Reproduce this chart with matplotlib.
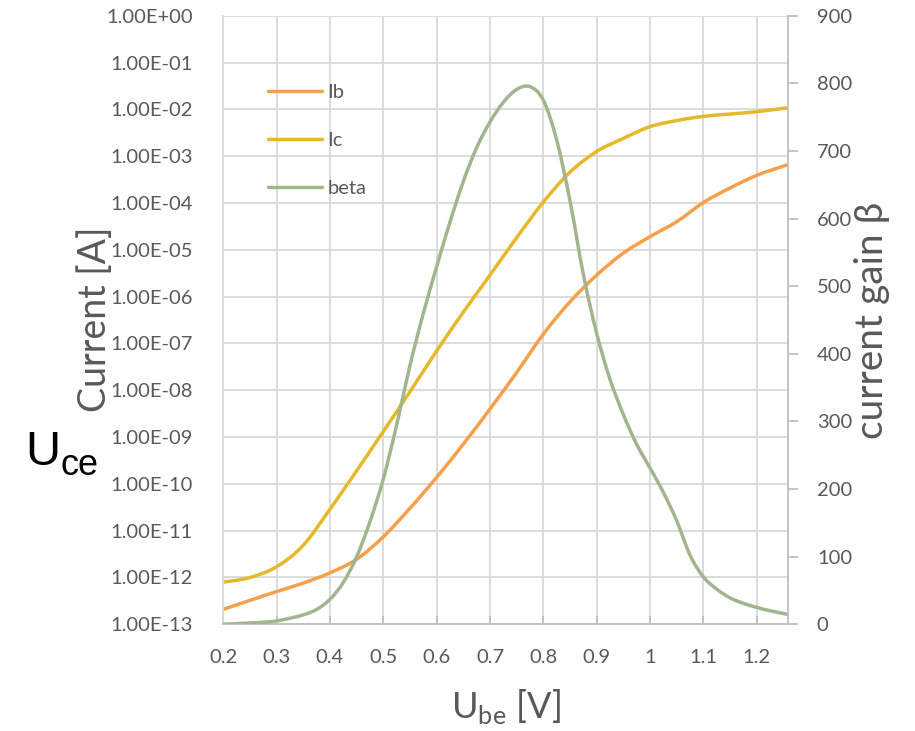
import numpy as np
import matplotlib
matplotlib.use("Agg")
import matplotlib.pyplot as plt
from matplotlib.path import Path
from matplotlib.patches import PathPatch
from matplotlib.lines import Line2D

# ---------------- data ----------------
ube_i = [0.20, 0.25, 0.30, 0.35, 0.40, 0.45, 0.50, 0.55, 0.60, 0.65, 0.70, 0.75,
         0.80, 0.85, 0.90, 0.95, 1.00, 1.05, 1.10, 1.15, 1.20, 1.256]
log_ib = [-12.68, -12.49, -12.30, -12.12, -11.90, -11.61, -11.13, -10.52, -9.86, -9.15,
          -8.40, -7.62, -6.80, -6.11, -5.54, -5.07, -4.72, -4.40, -3.99, -3.68, -3.41, -3.19]
log_ic = [-12.10, -12.00, -11.77, -11.31, -10.54, -9.72, -8.88, -8.03, -7.16, -6.33,
          -5.54, -4.74, -3.98, -3.34, -2.90, -2.62, -2.37, -2.24, -2.15, -2.10, -2.05, -1.97]

ube_b = [0.200, 0.225, 0.250, 0.275, 0.300, 0.325, 0.350, 0.375, 0.400, 0.425, 0.450,
         0.475, 0.500, 0.525, 0.550, 0.575, 0.600, 0.625, 0.650, 0.675, 0.700, 0.725,
         0.750, 0.775, 0.800, 0.825, 0.850, 0.875, 0.900, 0.925, 0.950, 0.975, 1.000,
         1.025, 1.050, 1.075, 1.100, 1.125, 1.150, 1.175, 1.200, 1.225, 1.256]
beta = [0, 1, 2, 3, 5, 9, 14, 22, 37, 62, 100,
        152, 215, 295, 383, 460, 529, 595, 655, 705, 743, 772,
        791, 795, 775, 716, 626, 517, 430, 362, 310, 266, 231,
        195, 153, 102, 70, 52, 39, 31, 25, 20, 15]

x_ticks = [0.2, 0.3, 0.4, 0.5, 0.6, 0.7, 0.8, 0.9, 1.0, 1.1, 1.2]
x_tick_labels = ["0.2", "0.3", "0.4", "0.5", "0.6", "0.7", "0.8", "0.9", "1", "1.1", "1.2"]
y_exps = list(range(-13, 1))
beta_ticks = [0, 100, 200, 300, 400, 500, 600, 700, 800, 900]

# ---------------- style ----------------
GRAY = "#595959"
GRID = "#d9d9d9"
AX = "#bfbfbf"
C_IB = "#F5A04A"
C_IC = "#E6B92A"
C_B = "#A3B58F"
LW = 2.5
FONT = ["Lato", "DejaVu Sans"]
plt.rcParams["font.family"] = FONT


def smooth_line(axis, xs, ys, color, logy=False):
    """Excel-like smoothed line: cubic Bezier segments through the data points."""
    P = np.column_stack([np.asarray(xs, float), np.asarray(ys, float)])
    n = len(P)
    verts = [P[0]]
    codes = [Path.MOVETO]
    for i in range(n - 1):
        p_prev = P[i - 1] if i > 0 else P[i]
        p_next2 = P[i + 2] if i + 2 < n else P[i + 1]
        c1 = P[i] + (P[i + 1] - p_prev) / 6.0
        c2 = P[i + 1] - (p_next2 - P[i]) / 6.0
        verts += [c1, c2, P[i + 1]]
        codes += [Path.CURVE4] * 3
    V = np.array(verts)
    if logy:
        V[:, 1] = 10.0 ** V[:, 1]
    patch = PathPatch(Path(V, codes), fill=False, edgecolor=color, lw=LW,
                      capstyle="round", joinstyle="round", transform=axis.transData)
    axis.add_patch(patch)


fig = plt.figure(figsize=(9.15, 7.31), dpi=100)
W, H = 915, 731
x0, x1, y0, y1 = 223.3, 787.7, 15.7, 624.3
ax = fig.add_axes([x0 / W, 1 - y1 / H, (x1 - x0) / W, (y1 - y0) / H])
ax2 = ax.twinx()

ax.set_yscale("log")
ax.set_ylim(1e-13, 1e0)
ax.set_xlim(0.2, 1.258)
ax2.set_ylim(0, 900)

smooth_line(ax, ube_i, log_ib, C_IB, logy=True)
smooth_line(ax, ube_i, log_ic, C_IC, logy=True)
smooth_line(ax2, ube_b, beta, C_B)

ax.set_yticks([10.0 ** e for e in y_exps])
ax.set_yticklabels([f"{10.0 ** e:.2E}" for e in y_exps])
ax.yaxis.set_minor_locator(matplotlib.ticker.NullLocator())
ax.set_xticks(x_ticks)
ax.set_xticklabels(x_tick_labels)
ax2.set_yticks(beta_ticks)
ax.set_xlim(0.2, 1.258)
ax.set_ylim(1e-13, 1e0)
ax2.set_ylim(0, 900)

ax.grid(True, which="major", color=GRID, lw=1.3)
ax.set_axisbelow(True)

ax.tick_params(axis="y", length=0, pad=22, labelsize=14.5, labelcolor=GRAY)
ax.tick_params(axis="x", direction="in", length=6, width=1.3, color=AX, pad=18,
               labelsize=14.5, labelcolor=GRAY)
ax2.tick_params(axis="y", direction="out", length=7, width=1.3, color=AX, pad=14,
                labelsize=14.5, labelcolor=GRAY)

for a in (ax, ax2):
    for s in a.spines.values():
        s.set_visible(False)
ax2.spines["right"].set_visible(True)
ax2.spines["right"].set_color(AX)
ax2.spines["right"].set_linewidth(1.3)
ax.spines["bottom"].set_visible(True)
ax.spines["bottom"].set_color(AX)
ax.spines["bottom"].set_linewidth(1.3)
ax.spines["left"].set_visible(True)
ax.spines["left"].set_color(GRID)
ax.spines["left"].set_linewidth(1.3)

handles = [Line2D([], [], color=C_IB, lw=LW, solid_capstyle="round", label="Ib"),
           Line2D([], [], color=C_IC, lw=LW, solid_capstyle="round", label="Ic"),
           Line2D([], [], color=C_B, lw=LW, solid_capstyle="round", label="beta")]
leg = ax.legend(handles=handles, loc="upper left", bbox_to_anchor=(0.079, 0.8885),
                frameon=False, fontsize=14.5, handlelength=2.7, handletextpad=0.25,
                labelspacing=1.55, borderpad=0, borderaxespad=0)
for t in leg.get_texts():
    t.set_color(GRAY)

# axis titles
fig.text(95 / W, 1 - 319 / H, "Current [A]", rotation=90, ha="center", va="center",
         color=GRAY, fontsize=27)
fig.text(872 / W, 1 - 320 / H, "current gain \u03b2", rotation=90, ha="center", va="center",
         color=GRAY, fontsize=28)
fig.text(506 / W, 1 - 707 / H, r"U$_\mathregular{be}$ [V]", ha="center", va="center",
         color=GRAY, fontsize=26)
UCE_FONT = ["Liberation Sans", "DejaVu Sans"]
fig.text(25 / W, 1 - 465 / H, "U", ha="left", va="baseline",
         color="black", fontsize=35, family=UCE_FONT)
fig.text(61 / W, 1 - 475 / H, "ce", ha="left", va="baseline",
         color="black", fontsize=26, family=UCE_FONT)

fig.savefig("out.png", dpi=100)
